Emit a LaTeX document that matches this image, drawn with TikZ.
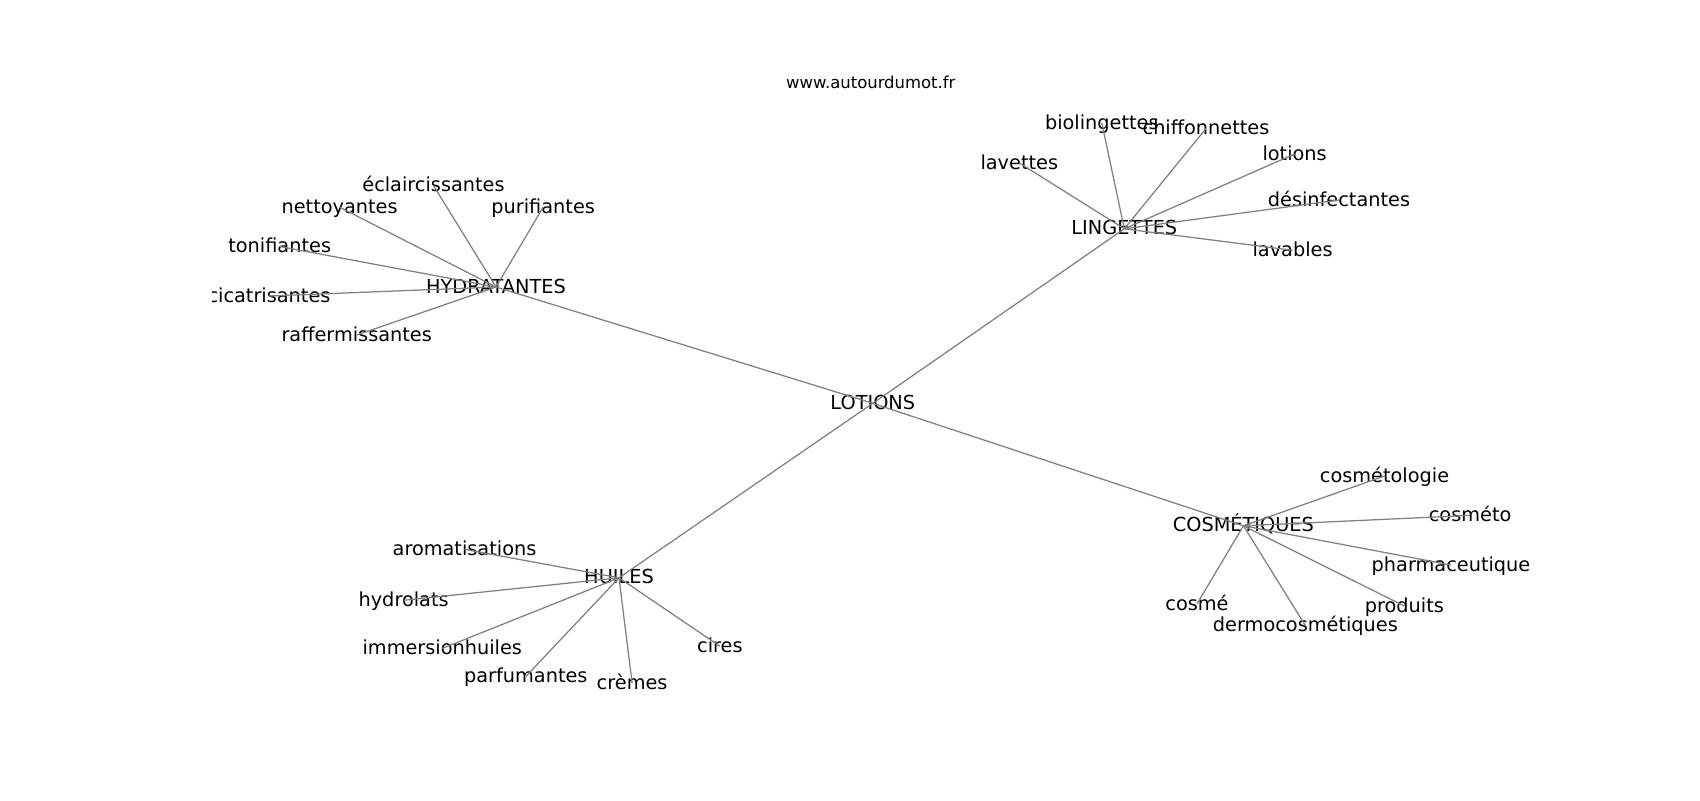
\documentclass[tikz,border=0pt]{standalone}
\usepackage{fontspec}
\setmainfont{DejaVu Sans}
\begin{document}
\begin{tikzpicture}[x=0.72pt,y=-0.72pt,
  lbl/.style={font=\fontsize{13.9}{16}\selectfont, inner sep=0pt, text height=1.1em, text depth=0.21em, anchor=center},
  ttl/.style={font=\fontsize{11.85}{14}\selectfont, inner sep=0pt, text height=0.9em, text depth=0.21em, anchor=center},
  edge/.style={draw=black!50, line width=0.9pt}]
\useasboundingbox (0,0) rectangle (1700,800);
\fill[white] (0,0) rectangle (1700,800);
\node[ttl] (title) at (870.8,83.3) {www.autourdumot.fr};
\begin{scope}
\clip (212.5,96) rectangle (1530,712);
% hubs
\node[lbl] (lot) at (872.8,403.3) {LOTIONS};
\node[lbl] (hyd) at (496,287) {HYDRATANTES};
\node[lbl] (lin) at (1124.3,228.8) {LINGETTES};
\node[lbl] (cos) at (1243.4,525.8) {COSMÉTIQUES};
\node[lbl] (hui) at (619,577.8) {HUILES};
% HYDRATANTES leaves
\node[lbl] (ecl) at (433.5,185.5) {éclaircissantes};
\node[lbl] (net) at (339.6,207.2) {nettoyantes};
\node[lbl] (pur) at (543.2,207.1) {purifiantes};
\node[lbl] (ton) at (279.7,246.5) {tonifiantes};
\node[lbl] (cic) at (269,296) {cicatrisantes};
\node[lbl] (raf) at (356.7,335) {raffermissantes};
% LINGETTES leaves
\node[lbl] (bio) at (1101.8,123) {biolingettes};
\node[lbl] (chi) at (1206,128.5) {chiffonnettes};
\node[lbl] (lotn) at (1294.6,154) {lotions};
\node[lbl] (lav) at (1019.3,163) {lavettes};
\node[lbl] (des) at (1339,200) {désinfectantes};
\node[lbl] (lva) at (1292.6,250.3) {lavables};
% COSMETIQUES leaves
\node[lbl] (cmt) at (1384.5,476) {cosmétologie};
\node[lbl] (cmo) at (1470.1,515.4) {cosméto};
\node[lbl] (pha) at (1451,565) {pharmaceutique};
\node[lbl] (pro) at (1404.3,606) {produits};
\node[lbl] (der) at (1305.4,625.6) {dermocosmétiques};
\node[lbl] (cme) at (1197,603.9) {cosmé};
% HUILES leaves
\node[lbl] (aro) at (464.5,549.3) {aromatisations};
\node[lbl] (hyl) at (403.6,600.3) {hydrolats};
\node[lbl] (imm) at (442.3,648.4) {immersionhuiles};
\node[lbl] (par) at (525.8,676.5) {parfumantes};
\node[lbl] (cre) at (632.1,683) {crèmes};
\node[lbl] (cir) at (719.9,646.2) {cires};
% edges
\foreach \h in {hyd,lin,cos,hui} \draw[edge] (lot.center) -- (\h.center);
\foreach \l in {ecl,net,pur,ton,cic,raf} \draw[edge] (hyd.center) -- (\l.center);
\foreach \l in {bio,chi,lotn,lav,des,lva} \draw[edge] (lin.center) -- (\l.center);
\foreach \l in {cmt,cmo,pha,pro,der,cme} \draw[edge] (cos.center) -- (\l.center);
\foreach \l in {aro,hyl,imm,par,cre,cir} \draw[edge] (hui.center) -- (\l.center);
\end{scope}
\end{tikzpicture}
\end{document}
